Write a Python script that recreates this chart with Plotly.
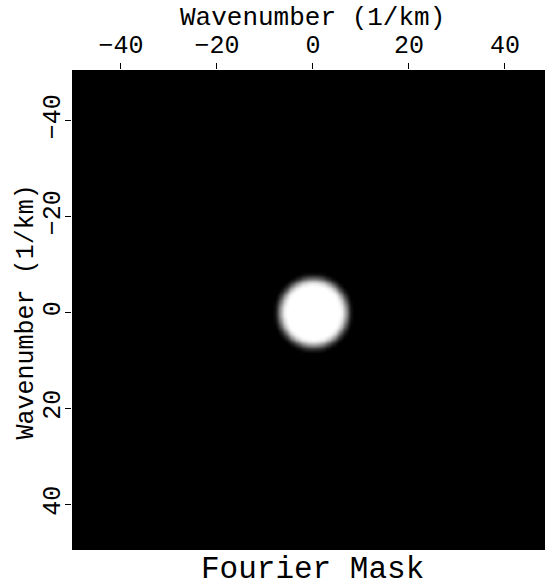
import numpy as np
import plotly.graph_objects as go

# Axis sample coordinates (1/km)
kx = np.arange(-50, 50, 0.5)
ky = np.arange(-50, 50, 0.5)

# Radial profile of the mask (radius in 1/km -> amplitude)
profile_radius = [0.0, 5.5, 6.0, 6.5, 7.0, 7.5, 8.0, 8.5]
profile_value = [1.0, 1.0, 0.93, 0.75, 0.5, 0.25, 0.08, 0.0]

tick_vals = [-40, -20, 0, 20, 40]
tick_text = ["\u221240", "\u221220", "0", "20", "40"]

KX, KY = np.meshgrid(kx, ky)
R = np.sqrt(KX**2 + KY**2)
Z = np.interp(R, profile_radius, profile_value)

FONT = "Liberation Mono"

fig = go.Figure(go.Heatmap(
    x=kx, y=ky, z=Z,
    colorscale=[[0, "black"], [1, "white"]],
    zmin=0, zmax=1, showscale=False, zsmooth="best",
))

fig.update_layout(
    width=545, height=588,
    margin=dict(l=72, r=0, t=70, b=38, autoexpand=False),
    paper_bgcolor="white", plot_bgcolor="black",
    font=dict(family=FONT, color="black"),
    showlegend=False,
    xaxis=dict(
        side="top", range=[-50.2, 48.35], tickvals=tick_vals, ticktext=tick_text,
        ticks="outside", ticklen=6, tickcolor="black", tickwidth=1,
        showgrid=False, zeroline=False, showline=False,
        tickfont=dict(family=FONT, size=25),
    ),
    yaxis=dict(
        range=[49.5, -50.5], tickvals=tick_vals, ticktext=tick_text,
        ticks="outside", ticklen=6, tickcolor="black", tickwidth=1, tickangle=-90,
        ticklabelstandoff=-5,
        showgrid=False, zeroline=False, showline=False,
        tickfont=dict(family=FONT, size=25),
    ),
    annotations=[
        dict(text="Wavenumber (1/km)", xref="x", x=0, yref="paper", y=1,
             xanchor="center", yanchor="middle", yshift=52, showarrow=False,
             font=dict(family=FONT, size=26, color="black")),
        dict(text="Wavenumber (1/km)", xref="paper", x=0, yref="y", y=0,
             xanchor="center", yanchor="middle", xshift=-46, textangle=-90,
             showarrow=False, font=dict(family=FONT, size=25, color="black")),
        dict(text="Fourier Mask", xref="x", x=0, yref="paper", y=0,
             xanchor="center", yanchor="middle", yshift=-19, showarrow=False,
             font=dict(family=FONT, size=31, color="black")),
    ],
)

fig.write_html("out.html", config={"displayModeBar": False},
               post_script="document.body.style.margin='0';")
